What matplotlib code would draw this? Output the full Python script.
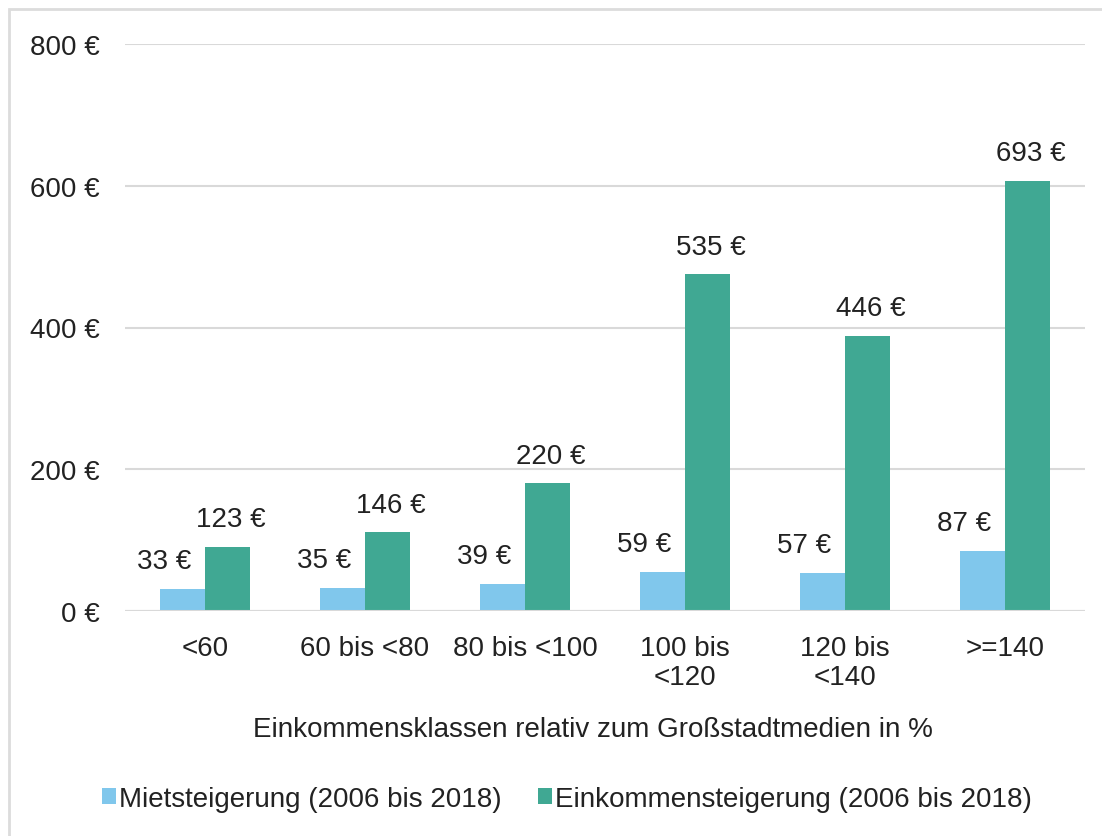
import matplotlib
matplotlib.use("Agg")
import matplotlib.pyplot as plt
import numpy as np
from matplotlib.patches import Rectangle

plt.rcParams['font.family'] = ['Liberation Sans', 'DejaVu Sans']

# categories on the x axis
categories = ['<60', '60 bis <80', '80 bis <100', '100 bis\n<120', '120 bis\n<140', '>=140']
series_names = ['Mietsteigerung (2006 bis 2018)', 'Einkommensteigerung (2006 bis 2018)']

# bar heights as drawn in the picture
miete_heights = [31, 33, 38, 55, 54, 85]
einkommen_heights = [90, 111, 180, 475, 388, 607]

# value labels as printed on the chart
miete_labels = [33, 35, 39, 59, 57, 87]
einkommen_labels = [123, 146, 220, 535, 446, 693]

y_ticks = [0, 200, 400, 600, 800]

col_miete = '#80c7ec'
col_einkommen = '#40a893'
text_col = '#222222'
fs = 20

fig = plt.figure(figsize=(11.02, 8.37), dpi=100)
ax = fig.add_axes([125 / 1102, 1 - 612 / 837, 960 / 1102, 567 / 837])

x = np.arange(len(categories))
w = 0.28
b1 = ax.bar(x - w / 2, miete_heights, w, color=col_miete, label=series_names[0], zorder=3)
b2 = ax.bar(x + w / 2, einkommen_heights, w, color=col_einkommen, label=series_names[1], zorder=3)

# data labels
for rect, val in zip(b1, miete_labels):
    ax.annotate(f'{val} €', (rect.get_x() + rect.get_width() / 2, rect.get_height()),
                xytext=(-13, 20), textcoords='offset points', ha='center', va='center',
                fontsize=fs, color=text_col)
for rect, val in zip(b2, einkommen_labels):
    ax.annotate(f'{val} €', (rect.get_x() + rect.get_width() / 2, rect.get_height()),
                xytext=(2.5, 20), textcoords='offset points', ha='center', va='center',
                fontsize=fs, color=text_col)

ax.set_xlim(-0.5, len(categories) - 0.5)
ax.set_ylim(0, 800)
ax.set_yticks(y_ticks)
ax.set_yticklabels([f'{v} €' for v in y_ticks], fontsize=fs, color=text_col)
ax.set_xticks(x)
ax.set_xticklabels(categories, fontsize=fs, color=text_col, linespacing=1.15)
ax.tick_params(axis='both', length=0)
ax.tick_params(axis='y', pad=18)
ax.tick_params(axis='x', pad=17)
ax.grid(axis='y', color='#d9d9d9', linewidth=1.5, zorder=0)
for s in ax.spines.values():
    s.set_visible(False)
ax.axhline(0, color='#d9d9d9', linewidth=1.5, zorder=4)

fig.text(593 / 1102, 1 - 730 / 837, 'Einkommensklassen relativ zum Großstadtmedien in %',
         ha='center', va='center', fontsize=fs, color=text_col)

fig.legend(handles=[b1, b2], loc='center', bbox_to_anchor=(567 / 1102, 1 - 800 / 837),
           ncol=2, frameon=False, fontsize=fs, handlelength=0.5, handleheight=0.5,
           handletextpad=0.12, columnspacing=1.3, borderpad=0, labelcolor=text_col)

# light frame around the chart area (cut off at right and bottom)
fig.patches.append(Rectangle((9 / 1102, -0.05), 1.2, 1 - 10 / 837 + 0.05,
                             transform=fig.transFigure, fill=False,
                             edgecolor='#dcdcdc', linewidth=2))

fig.savefig('out.png', dpi=100)
